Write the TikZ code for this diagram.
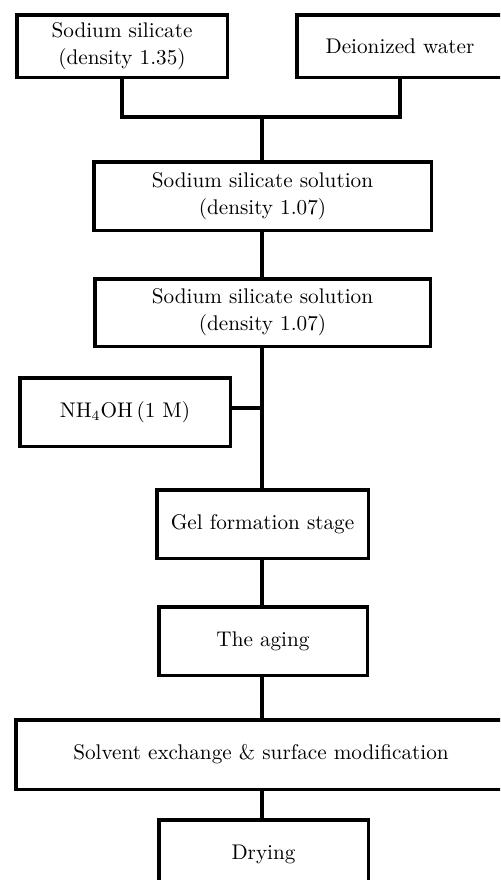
\documentclass[tikz,border=0pt]{standalone}
\begin{document}
\begin{tikzpicture}[x=0.5pt,y=-0.5pt,
  box/.style={draw, line width=1.75pt, inner sep=0pt, align=center, font=\fontsize{10.6}{13.5}\selectfont},
  conn/.style={line width=1.75pt}]
\useasboundingbox (0,0) rectangle (500,880);
\clip (0,0) rectangle (500,880);
\node[box, minimum width=105.25pt, minimum height=31.25pt] (b1) at (122,46) {Sodium silicate\\(density 1.35)};
\node[box, minimum width=103.25pt, minimum height=31.25pt] (b2) at (400,46) {Deionized water};
\node[box, minimum width=168.75pt, minimum height=34.25pt] (b3) at (262.5,196) {Sodium silicate solution\\(density 1.07)};
\node[box, minimum width=167.75pt, minimum height=33.75pt] (b4) at (262.5,312.5) {Sodium silicate solution\\(density 1.07)};
\node[box, minimum width=105.25pt, minimum height=34.25pt] (nh) at (125,412) {NH$_4$OH\,(1 M)};
\node[box, minimum width=105.75pt, minimum height=34.25pt] (gel) at (262.5,524) {Gel formation stage};
\node[box, minimum width=104.25pt, minimum height=34.25pt] (age) at (263,641) {The aging};
\node[box, minimum width=245.25pt, minimum height=34.75pt] (sol) at (261,754.5) {Solvent exchange \& surface modification};
\node[box, minimum width=104.75pt, minimum height=34.25pt] (dry) at (263.5,854) {Drying};
\coordinate (j) at (262,117);
\draw[conn] (b1.south) |- (j) -| (b2.south);
\draw[conn] (j) -- (b3.north -| j);
\draw[conn] (b3.south -| j) -- (b4.north -| j);
\draw[conn] (b4.south -| j) -- (gel.north -| j);
\draw[conn] (nh.east |- 0,408) -- (j |- 0,408);
\draw[conn] (gel.south -| j) -- (age.north -| j);
\draw[conn] (age.south -| j) -- (sol.north -| j);
\draw[conn] (sol.south -| j) -- (dry.north -| j);
\end{tikzpicture}
\end{document}
